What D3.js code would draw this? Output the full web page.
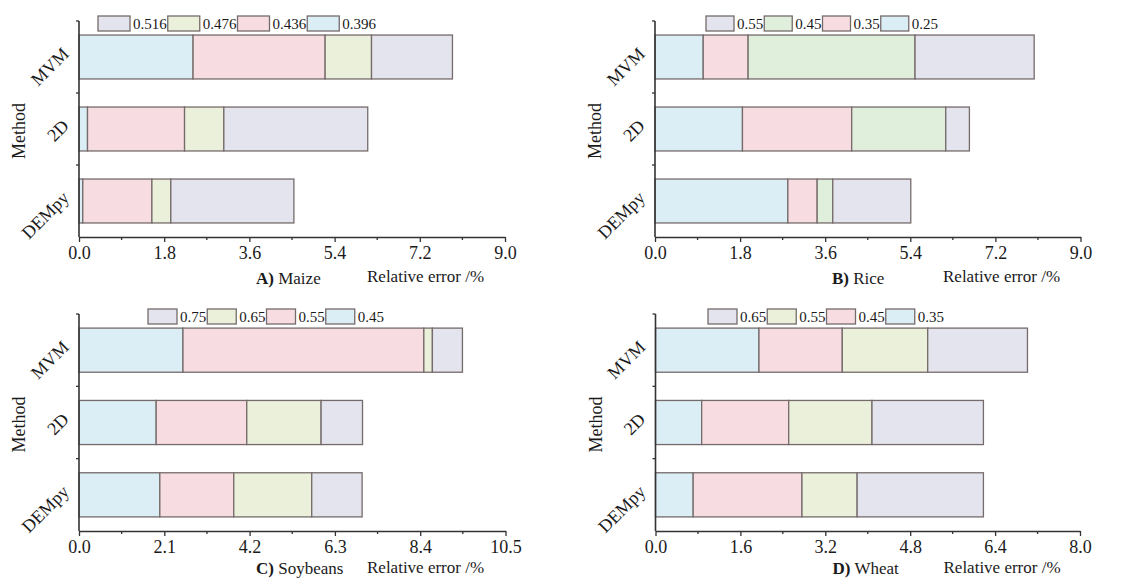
<!DOCTYPE html>
<html>
<head>
<meta charset="utf-8">
<script src="https://cdn.jsdelivr.net/npm/d3@7"></script>
<style>
  body { margin: 0; background: #fff; }
  text { font-family: "Liberation Serif", "Times New Roman", serif; fill: #1a1a1a; }
</style>
</head>
<body>
<div id="chart"></div>
<script>
// methods on the y axis, top to bottom
var methods = ["MVM", "2D", "DEMpy"];

// series labels (threshold levels) per crop, stacked left to right
var maizeLevels = ["0.396", "0.436", "0.476", "0.516"];
var riceLevels = ["0.25", "0.35", "0.45", "0.55"];
var soyLevels = ["0.45", "0.55", "0.65", "0.75"];
var wheatLevels = ["0.35", "0.45", "0.55", "0.65"];

// relative error (%) per level, values for [MVM, 2D, DEMpy]
var maizeValues = [
    [2.41, 0.18, 0.08],
    [2.79, 2.05, 1.46],
    [0.98, 0.83, 0.40],
    [1.71, 3.04, 2.60]
];
var riceValues = [
    [1.02, 1.85, 2.81],
    [0.95, 2.31, 0.62],
    [3.53, 1.99, 0.33],
    [2.52, 0.50, 1.65]
];
var soyValues = [
    [2.56, 1.90, 1.99],
    [5.93, 2.23, 1.82],
    [0.21, 1.83, 1.92],
    [0.74, 1.02, 1.24]
];
var wheatValues = [
    [1.95, 0.87, 0.71],
    [1.57, 1.64, 2.05],
    [1.61, 1.57, 1.04],
    [1.88, 2.10, 2.38]
];

// x tick labels
var maizeTicks = [0, 1.8, 3.6, 5.4, 7.2, 9.0];
var riceTicks = [0, 1.8, 3.6, 5.4, 7.2, 9.0];
var soyTicks = [0, 2.1, 4.2, 6.3, 8.4, 10.5];
var wheatTicks = [0, 1.6, 3.2, 4.8, 6.4, 8.0];

var panelNames = ["Maize", "Rice", "Soybeans", "Wheat"];
var panelLetters = ["A)", "B)", "C)", "D)"];

var svgWidth = 1141;
var svgHeight = 579;

var svg = d3.select("#chart")
    .append("svg")
    .attr("width", svgWidth)
    .attr("height", svgHeight);

// fill colours follow the stacking order (first level = blue)
var riceFills = ["#dbedf5", "#f7dde2", "#e0efdc", "#e3e4ee"];
var otherFills = ["#dbedf5", "#f7dde2", "#eaf0da", "#e3e4ee"];

var panels = [
    { levels: maizeLevels, values: maizeValues, ticks: maizeTicks, fills: otherFills,
      left: 79, right: 505, top: 21, bottom: 237, legendX: 98, swatchW: 32, labDy: 47, titleDy: 45 },
    { levels: riceLevels, values: riceValues, ticks: riceTicks, fills: riceFills,
      left: 655, right: 1080.5, top: 21, bottom: 237, legendX: 706, swatchW: 28, labDy: 47, titleDy: 45 },
    { levels: soyLevels, values: soyValues, ticks: soyTicks, fills: otherFills,
      left: 79, right: 505.5, top: 314, bottom: 531, legendX: 148, swatchW: 29, labDy: 43, titleDy: 42 },
    { levels: wheatLevels, values: wheatValues, ticks: wheatTicks, fills: otherFills,
      left: 655.5, right: 1080, top: 314, bottom: 531, legendX: 708, swatchW: 29, labDy: 43, titleDy: 42 }
];

panels.forEach(function (p, i) {
    var g = svg.append("g");

    // rows: one object per method, keyed by level
    var rows = methods.map(function (m, j) {
        var row = { method: m };
        p.levels.forEach(function (lv, k) { row[lv] = p.values[k][j]; });
        return row;
    });
    var stacked = d3.stack().keys(p.levels)(rows);

    var x = d3.scaleLinear()
        .domain([0, p.ticks[p.ticks.length - 1]])
        .range([p.left, p.right]);

    var y = d3.scaleBand()
        .domain(methods)
        .range([p.top, p.bottom])
        .paddingInner(0.39)
        .paddingOuter(0.195);

    var color = d3.scaleOrdinal().domain(p.levels).range(p.fills);

    // bars
    g.selectAll("g.series")
        .data(stacked)
        .enter()
        .append("g")
        .attr("class", "series")
        .attr("fill", d => color(d.key))
        .selectAll("rect")
        .data(d => d)
        .enter()
        .append("rect")
        .attr("x", d => x(d[0]))
        .attr("y", d => y(d.data.method))
        .attr("width", d => x(d[1]) - x(d[0]))
        .attr("height", y.bandwidth())
        .attr("stroke", "#756b6b")
        .attr("stroke-width", 1.3);

    // x axis with major + minor ticks
    var minor = [];
    for (var t = 0; t < p.ticks.length - 1; t++) {
        minor.push((p.ticks[t] + p.ticks[t + 1]) / 2);
    }
    var xAxis = d3.axisBottom(x)
        .tickValues(p.ticks)
        .tickFormat(d3.format(".1f"))
        .tickSize(5)
        .tickSizeOuter(0)
        .tickPadding(4);
    var xg = g.append("g")
        .attr("transform", `translate(0, ${p.bottom})`)
        .call(xAxis);
    xg.select(".domain").attr("stroke", "#333").attr("stroke-width", 1.6);
    xg.selectAll(".tick line").attr("stroke", "#333").attr("stroke-width", 1.3);
    xg.selectAll(".tick text")
        .attr("font-family", "Liberation Serif, serif")
        .attr("font-size", 18)
        .attr("fill", "#1a1a1a");

    g.append("g")
        .attr("transform", `translate(0, ${p.bottom})`)
        .selectAll("line")
        .data(minor)
        .enter()
        .append("line")
        .attr("x1", d => x(d))
        .attr("x2", d => x(d))
        .attr("y1", 0)
        .attr("y2", 3)
        .attr("stroke", "#333")
        .attr("stroke-width", 1.3);

    // y axis line with small ticks at band edges
    g.append("line")
        .attr("x1", p.left).attr("x2", p.left)
        .attr("y1", p.top).attr("y2", p.bottom)
        .attr("stroke", "#333")
        .attr("stroke-width", 1.6);
    var step = y.step();
    g.selectAll("line.ytick")
        .data(methods)
        .enter()
        .append("line")
        .attr("class", "ytick")
        .attr("x1", p.left - 3)
        .attr("x2", p.left)
        .attr("y1", d => y(d) - step * 0.195)
        .attr("y2", d => y(d) - step * 0.195)
        .attr("stroke", "#333")
        .attr("stroke-width", 1.3);

    // rotated category labels
    g.selectAll("text.cat")
        .data(methods)
        .enter()
        .append("text")
        .attr("class", "cat")
        .attr("text-anchor", "end")
        .attr("font-size", 18)
        .attr("transform", d => `translate(${p.left - 9}, ${y(d) + y.bandwidth() / 2 - 2}) rotate(-45)`)
        .text(d => d);

    // "Method"
    g.append("text")
        .attr("text-anchor", "middle")
        .attr("font-size", 18)
        .attr("transform", `translate(${p.left - 54}, ${(p.top + p.bottom) / 2 + 2}) rotate(-90)`)
        .text("Method");

    // panel label and axis title
    var lab = g.append("text")
        .attr("x", p.left + 177)
        .attr("y", p.bottom + p.labDy)
        .attr("font-size", 17);
    lab.append("tspan").attr("font-weight", "bold").text(panelLetters[i]);
    lab.append("tspan").text(" " + panelNames[i]);

    g.append("text")
        .attr("x", p.left + 288)
        .attr("y", p.bottom + p.titleDy)
        .attr("font-size", 17)
        .text("Relative error /%");

    // legend: reversed order, swatch then label, packed tightly
    var lx = p.legendX;
    var legendY = p.top - 5;
    p.levels.slice().reverse().forEach(function (lv) {
        g.append("rect")
            .attr("x", lx)
            .attr("y", legendY)
            .attr("width", p.swatchW)
            .attr("height", 15)
            .attr("fill", color(lv))
            .attr("stroke", "#756b6b")
            .attr("stroke-width", 1.3);
        var tx = g.append("text")
            .attr("x", lx + p.swatchW + 3)
            .attr("y", legendY + 13)
            .attr("font-size", 15)
            .text(lv);
        lx += p.swatchW + 3 + tx.node().getComputedTextLength() + 1;
    });
});
</script>
</body>
</html>
